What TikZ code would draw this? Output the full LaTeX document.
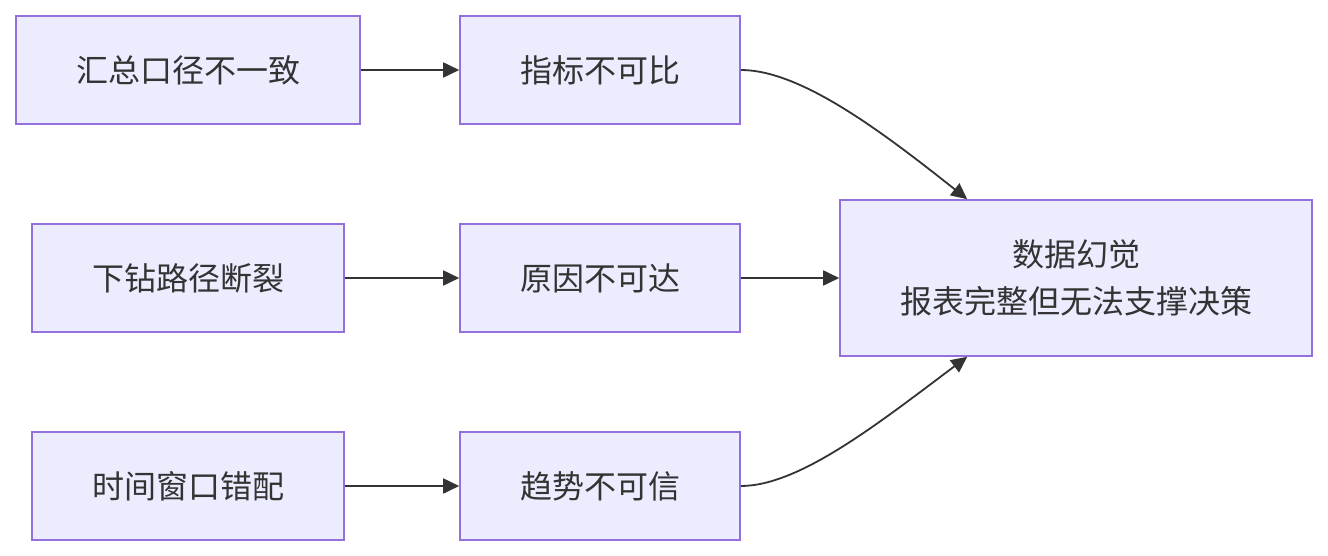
\documentclass[tikz,border=0pt]{standalone}
\usepackage{fontspec}
\setmainfont{Noto Sans CJK SC}
\usetikzlibrary{arrows.meta,calc}
\definecolor{boxfill}{HTML}{ECECFF}
\definecolor{boxline}{HTML}{9370DB}
\definecolor{arr}{HTML}{333333}
\begin{document}
\begin{tikzpicture}[x=1pt,y=-1pt,
  box/.style={draw=boxline,fill=boxfill,line width=1.6pt,inner sep=0pt,
    font=\fontsize{32}{47}\selectfont,text=arr,align=center},
  conn/.style={draw=arr,line width=1.8pt,-{Triangle[length=16pt,width=15pt]}}]
\useasboundingbox (0,0) rectangle (1328,556);
\node[box,minimum width=344pt,minimum height=108pt] (A) at (188,70) {汇总口径不一致};
\node[box,minimum width=280pt,minimum height=108pt] (B) at (600,70) {指标不可比};
\node[box,minimum width=312pt,minimum height=108pt] (C) at (188,278) {下钻路径断裂};
\node[box,minimum width=280pt,minimum height=108pt] (D) at (600,278) {原因不可达};
\node[box,minimum width=312pt,minimum height=108pt] (E) at (188,486) {时间窗口错配};
\node[box,minimum width=280pt,minimum height=108pt] (F) at (600,486) {趋势不可信};
\node[box,minimum width=472pt,minimum height=156pt] (G) at (1076,278) {数据幻觉\\报表完整但无法支撑决策};
\coordinate (Gt) at ($(G.north west)+(128,0)$);
\coordinate (Gb) at ($(G.south west)+(128,0)$);
\draw[conn] (A.east) -- (B.west);
\draw[conn] (C.east) -- (D.west);
\draw[conn] (E.east) -- (F.west);
\draw[conn] (D.east) -- (G.west);
\draw[conn] (B.east) .. controls (800,70) and (880,130) .. (Gt);
\draw[conn] (F.east) .. controls (800,486) and (880,422) .. (Gb);
\end{tikzpicture}
\end{document}
